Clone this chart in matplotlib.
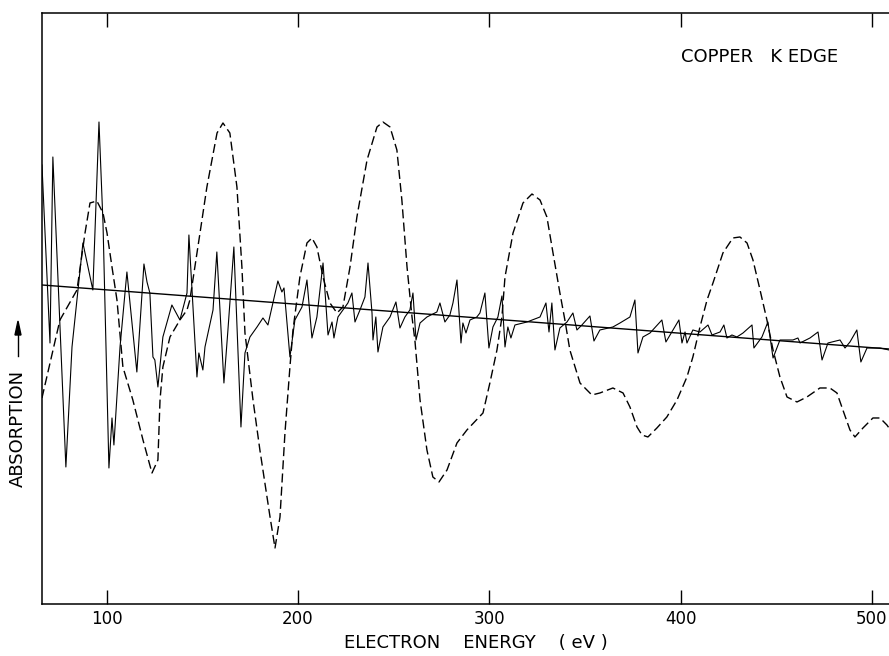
import matplotlib.pyplot as plt

####################################
# Dados (energia em eV, absorcao em unidades arbitrarias)

# Curva tracejada (suave)
E_dash = [66.2, 75.6, 84.5, 88.7, 91.3, 94.9, 98.1, 100.2, 102.8, 105.4,
          108.5, 113.7, 119.0, 123.7, 126.8, 127.9, 129.4, 133.1, 138.3, 142.0,
          143.5, 148.8, 152.4, 157.7, 160.8, 164.4, 168.1, 170.7, 172.3, 176.5,
          180.1, 185.4, 188.0, 190.6, 193.2, 195.8, 197.4, 201.0, 204.7, 207.3,
          209.9, 213.1, 216.7, 220.4, 223.5, 227.2, 230.8, 236.1, 241.3, 244.4,
          248.1, 251.7, 254.3, 257.0, 259.6, 261.1, 263.8, 267.4, 270.5, 273.7,
          277.9, 283.1, 288.3, 296.7, 300.3, 304.0, 306.6, 308.2, 312.4, 317.6,
          322.3, 326.5, 330.1, 333.3, 336.9, 339.5, 342.1, 347.4, 353.6, 357.8,
          364.6, 369.9, 373.5, 377.2, 379.8, 382.9, 387.6, 392.8, 398.1, 403.3,
          406.4, 410.1, 413.8, 416.9, 422.1, 427.3, 431.0, 434.7, 437.8, 441.5,
          445.1, 448.3, 451.9, 455.6, 460.8, 466.0, 472.8, 478.0, 481.7, 484.8,
          488.5, 491.1, 495.3, 500.5, 504.2, 507.8, 508.9]
A_dash = [20.6, 28.4, 31.4, 37.1, 40.1, 40.3, 39.1, 37.1, 33.7, 30.4,
          23.7, 20.4, 16.4, 13.1, 14.4, 20.4, 23.7, 26.7, 28.4, 29.4,
          30.4, 37.1, 41.7, 47.1, 48.1, 47.1, 41.7, 33.7, 27.1, 20.4,
          15.4, 8.7, 5.6, 8.7, 17.1, 23.7, 27.4, 32.7, 36.1, 36.6,
          35.7, 32.7, 30.1, 29.1, 29.7, 33.7, 38.7, 44.4, 47.7, 48.2,
          47.7, 45.4, 40.4, 33.7, 28.7, 26.4, 20.4, 15.4, 12.7, 12.2,
          13.4, 16.1, 17.4, 19.1, 22.1, 25.4, 28.7, 32.7, 37.1, 40.1,
          41.0, 40.4, 38.7, 35.1, 31.1, 28.4, 25.4, 22.1, 20.9, 21.1,
          21.6, 21.1, 19.7, 17.7, 16.9, 16.7, 17.6, 18.7, 20.4, 22.7,
          24.7, 27.7, 30.4, 32.1, 35.1, 36.6, 36.7, 36.1, 34.4, 31.4,
          28.4, 25.4, 22.7, 20.7, 20.2, 20.7, 21.6, 21.6, 21.1, 19.4,
          17.4, 16.7, 17.6, 18.6, 18.6, 17.9, 17.6]

# Curva cheia (com picos)
E_solid = [66.2, 70.4, 71.9, 78.7, 81.9, 87.6, 92.8, 96.0, 98.1, 101.2,
           102.8, 103.8, 107.0, 110.6, 115.8, 119.5, 121.1, 122.6, 124.2, 125.2,
           126.8, 129.4, 134.1, 138.3, 142.0, 143.0, 147.2, 148.2, 150.3, 151.4,
           155.6, 157.6, 161.3, 163.4, 166.5, 170.2, 172.3, 174.9, 178.6, 181.7,
           184.3, 186.9, 189.5, 191.6, 192.7, 195.8, 198.4, 202.1, 204.7, 207.3,
           209.9, 213.1, 215.7, 217.8, 218.8, 220.9, 223.5, 226.1, 228.2, 229.8,
           232.4, 235.0, 236.6, 238.7, 239.2, 240.7, 241.8, 244.4, 248.1, 251.2,
           253.3, 255.9, 258.5, 260.1, 261.7, 263.8, 267.4, 272.6, 274.2, 276.8,
           279.4, 281.0, 283.1, 285.2, 286.2, 287.8, 289.9, 293.5, 295.1, 297.7,
           299.8, 301.9, 304.5, 306.6, 308.2, 309.7, 311.3, 313.4, 319.7, 326.5,
           329.6, 331.2, 332.7, 334.3, 336.9, 340.6, 343.7, 345.8, 348.4, 352.6,
           354.7, 357.8, 364.6, 368.3, 373.5, 376.1, 377.7, 380.3, 384.0, 390.2,
           392.3, 396.0, 399.1, 400.7, 402.3, 403.3, 406.4, 410.1, 414.3, 416.4,
           420.6, 422.6, 424.2, 426.8, 429.4, 432.6, 437.3, 438.3, 442.5, 445.6,
           448.3, 451.9, 458.7, 461.3, 462.4, 467.6, 471.8, 473.9, 477.0, 483.3,
           485.9, 488.5, 492.1, 494.2, 497.4, 504.2, 508.9]
A_solid = [43.9, 26.1, 44.7, 13.7, 25.7, 36.1, 31.4, 48.2, 38.1, 13.6,
           18.6, 15.9, 25.7, 33.2, 23.2, 34.0, 32.2, 31.1, 24.7, 24.4,
           21.7, 26.7, 29.9, 28.4, 31.1, 36.9, 22.7, 25.1, 23.4, 25.7,
           29.4, 35.2, 22.1, 27.4, 35.7, 17.7, 25.1, 26.7, 27.7, 28.6,
           27.9, 30.1, 32.3, 31.2, 31.6, 24.7, 28.4, 29.7, 32.4, 26.6,
           28.7, 34.1, 26.9, 28.2, 26.6, 28.7, 29.4, 30.1, 31.1, 28.2,
           29.4, 30.7, 34.1, 29.1, 26.4, 28.7, 25.2, 27.7, 28.7, 30.2,
           27.6, 28.7, 29.4, 31.1, 26.4, 28.1, 28.7, 29.2, 30.1, 28.2,
           28.9, 30.1, 32.4, 26.1, 28.1, 27.1, 28.4, 28.7, 29.1, 31.1,
           25.6, 27.7, 28.7, 30.8, 25.7, 27.7, 26.6, 27.9, 28.2, 28.7,
           30.1, 27.2, 30.1, 25.4, 27.6, 28.2, 29.1, 27.4, 27.9, 28.8,
           26.3, 27.4, 27.7, 28.1, 28.7, 30.4, 25.1, 26.7, 27.1, 28.4,
           26.2, 27.4, 28.4, 26.1, 27.2, 26.1, 27.4, 27.2, 27.9, 26.9,
           27.2, 27.9, 26.6, 26.9, 26.7, 27.1, 27.9, 25.6, 26.7, 28.2,
           24.6, 26.4, 26.4, 26.6, 26.1, 26.6, 27.2, 24.4, 26.1, 26.4,
           25.6, 26.2, 27.4, 24.2, 25.6, 25.6, 25.4]

# Reta de fundo
E_reta = [66.2, 508.9]
A_reta = [31.9, 25.5]

# Eixo x
ticks = [100, 200, 300, 400, 500]

####################################
# Plotar o grafico

fig = plt.figure(figsize=(8.89, 6.56), dpi=100)
ax = fig.add_axes([0.0472, 0.0793, 0.9528, 0.9009])

ax.plot(E_dash, A_dash, c="black", lw=1.0, linestyle=(0, (6.5, 3.0)))
ax.plot(E_solid, A_solid, c="black", lw=0.8)
ax.plot(E_reta, A_reta, c="black", lw=1.0)

ax.set_xlim(66.2, 508.9)
ax.set_ylim(0, 59.1)

# Configuracoes dos eixos
ax.spines["right"].set_visible(False)
for s in ["left", "top", "bottom"]:
    ax.spines[s].set_linewidth(1.1)
ax.set_xticks(ticks)
ax.set_xticklabels([str(t) for t in ticks])
ax.tick_params(axis="x", direction="in", length=10, width=1.0,
               top=True, labelsize=12, pad=4)
ax.set_yticks([])

# Textos
fig.text(476 / 889, 1 - 643 / 656, "ELECTRON    ENERGY    ( eV )",
         ha="center", va="center", fontsize=13)
fig.text(760 / 889, 1 - 57 / 656, "COPPER   K EDGE",
         ha="center", va="center", fontsize=13)
fig.text(18 / 889, 1 - 428 / 656, "ABSORPTION", rotation=90,
         ha="center", va="center", fontsize=13)
fig.add_artist(plt.Line2D([18 / 889, 18 / 889], [1 - 356 / 656, 1 - 330 / 656],
                          c="black", lw=1.0))
fig.patches.append(plt.Polygon([[15 / 889, 1 - 335 / 656], [21 / 889, 1 - 335 / 656],
                                [18 / 889, 1 - 321 / 656]], closed=True,
                               color="black", transform=fig.transFigure))

plt.savefig("out.png", dpi=100)
